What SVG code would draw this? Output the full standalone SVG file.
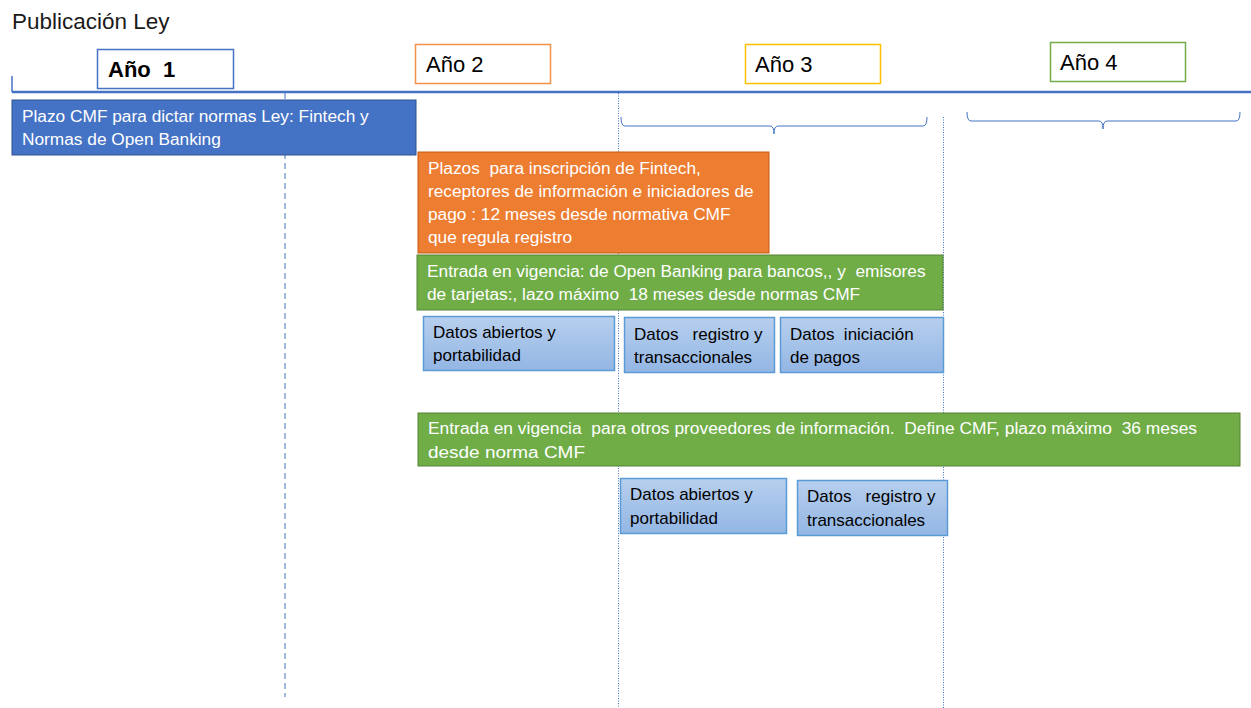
<svg xmlns="http://www.w3.org/2000/svg" width="1251" height="708" viewBox="0 0 1251 708">
<defs>
<linearGradient id="lb" x1="0" y1="0" x2="0" y2="1">
<stop offset="0" stop-color="#B7CFEE"/>
<stop offset="1" stop-color="#93B6E4"/>
</linearGradient>
<style>
text{font-family:"Liberation Sans",Arial,sans-serif;white-space:pre}
.t{font-size:17.3px;fill:#fff}
.d{font-size:17px;fill:#000}
.y{font-size:22px;fill:#000}
.lb{fill:url(#lb);stroke:#5B9BD5;stroke-width:1.5}
.guide{stroke:#4472C4;stroke-width:1;fill:none}
</style>
</defs>
<rect width="1251" height="708" fill="#fff"/>
<text x="12" y="29" font-size="22.5" fill="#1a1a1a">Publicación Ley</text>

<g id="connectors">
<line x1="12" y1="92" x2="1251" y2="92" stroke="#4472C4" stroke-width="2.5"/>
<line x1="12" y1="76" x2="12" y2="92" stroke="#4472C4" stroke-width="1.5"/>
<line x1="285" y1="93" x2="285" y2="697" stroke="#4472C4" stroke-width="1" stroke-dasharray="6,4"/>
<line x1="618.5" y1="93" x2="618.5" y2="708" stroke="#4472C4" stroke-width="1" stroke-dasharray="1,1.5"/>
<line x1="943.5" y1="117" x2="943.5" y2="708" stroke="#4472C4" stroke-width="1" stroke-dasharray="1,1.5"/>
<path class="guide" d="M621,117 Q621,126 625,126 L770,126 Q774,126 774,134 Q774,126 778,126 L923,126 Q927,126 927,117"/>
<path class="guide" d="M967,112 Q967,121 971,121 L1099,121 Q1103,121 1103,129 Q1103,121 1107,121 L1236,121 Q1240,121 1240,112"/>
</g>

<g id="ano1"><rect x="97.5" y="49.5" width="136" height="39" fill="#fff" stroke="#4472C4" stroke-width="1.5"/><text class="y" x="108" y="77" font-weight="bold">Año  1</text></g>
<g id="ano2"><rect x="415.5" y="44.5" width="135" height="39" fill="#fff" stroke="#F4914A" stroke-width="1.5"/><text class="y" x="426" y="72">Año 2</text></g>
<g id="ano3"><rect x="745.5" y="44.5" width="135" height="39" fill="#fff" stroke="#FFC000" stroke-width="1.5"/><text class="y" x="755" y="72">Año 3</text></g>
<g id="ano4"><rect x="1050.5" y="42.5" width="135" height="39" fill="#fff" stroke="#70AD47" stroke-width="1.5"/><text class="y" x="1060" y="70">Año 4</text></g>

<g id="plazo-cmf"><rect x="12" y="100" width="404" height="55" fill="#4472C4" stroke="#2F528F" stroke-width="1"/>
<text class="t" x="22" y="122">Plazo CMF para dictar normas Ley: Fintech y</text>
<text class="t" x="22" y="145">Normas de Open Banking</text></g>

<g id="plazos-inscripcion"><rect x="418" y="152" width="351" height="101" fill="#ED7D31" stroke="#C55A11" stroke-width="1"/>
<text class="t" x="428" y="174">Plazos  para inscripción de Fintech,</text>
<text class="t" x="428" y="197">receptores de información e iniciadores de</text>
<text class="t" x="428" y="220">pago : 12 meses desde normativa CMF</text>
<text class="t" x="428" y="243">que regula registro</text></g>

<g id="vigencia-bancos"><rect x="417" y="255" width="526" height="55" fill="#70AD47" stroke="#548235" stroke-width="1"/>
<text class="t" x="427" y="277">Entrada en vigencia: de Open Banking para bancos,, y  emisores</text>
<text class="t" x="427" y="300">de tarjetas:, lazo máximo  18 meses desde normas CMF</text></g>

<g id="datos-abiertos-1"><rect class="lb" x="423.5" y="316.5" width="191" height="54"/>
<text class="d" x="433" y="338">Datos abiertos y</text><text class="d" x="433" y="361">portabilidad</text></g>
<g id="datos-registro-1"><rect class="lb" x="624.5" y="317.5" width="150" height="55"/>
<text class="d" x="634" y="340">Datos   registro y</text><text class="d" x="634" y="363">transaccionales</text></g>
<g id="datos-iniciacion"><rect class="lb" x="780.5" y="317.5" width="163" height="55"/>
<text class="d" x="790" y="340">Datos  iniciación</text><text class="d" x="790" y="363">de pagos</text></g>

<g id="vigencia-otros"><rect x="418" y="413" width="822" height="53" fill="#70AD47" stroke="#548235" stroke-width="1"/>
<text class="t" x="428" y="434" textLength="769" lengthAdjust="spacingAndGlyphs">Entrada en vigencia  para otros proveedores de información.  Define CMF, plazo máximo  36 meses</text>
<text class="t" x="428" y="458" textLength="157" lengthAdjust="spacingAndGlyphs">desde norma CMF</text></g>

<g id="datos-abiertos-2"><rect class="lb" x="620.5" y="478.5" width="166" height="55"/>
<text class="d" x="630" y="500">Datos abiertos y</text><text class="d" x="630" y="524">portabilidad</text></g>
<g id="datos-registro-2"><rect class="lb" x="797.5" y="480.5" width="150" height="55"/>
<text class="d" x="807" y="502">Datos   registro y</text><text class="d" x="807" y="526">transaccionales</text></g>
</svg>
